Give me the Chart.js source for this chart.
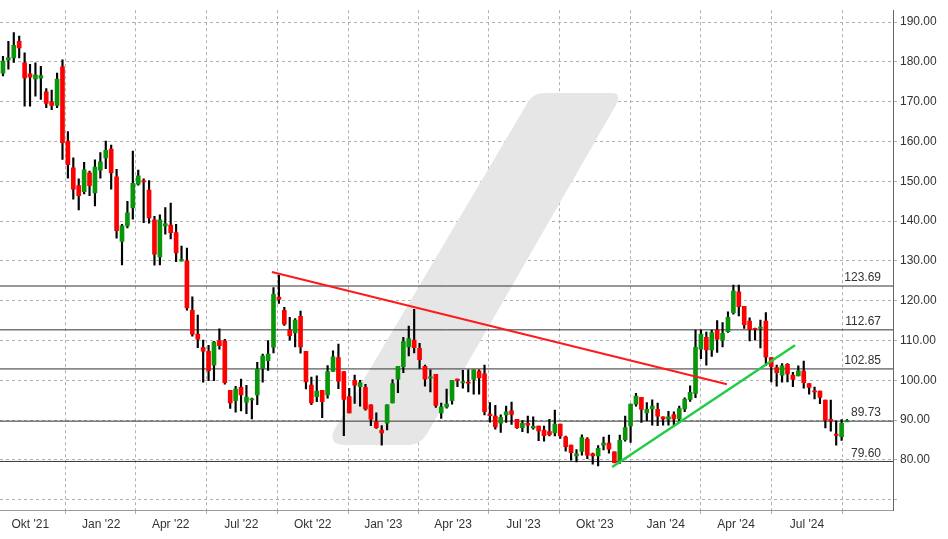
<!DOCTYPE html>
<html>
<head>
<meta charset="utf-8">
<script src="https://cdn.jsdelivr.net/npm/chart.js@4/dist/chart.umd.min.js"></script>
<style>
  html, body { margin: 0; padding: 0; background: #fff; }
  #wrap { width: 948px; height: 539px; position: relative; }
</style>
</head>
<body>
<div id="wrap"><canvas id="c"></canvas></div>
<script>
// Wochenkerzen Okt '21 - Aug '24
const opens  = [177.2,180.5,181.0,185.2,179.8,177.0,175.7,175.9,172.5,170.0,169.1,178.8,160.1,153.4,148.9,147.4,152.1,147.1,152.8,155.9,158.1,151.1,134.9,138.8,143.3,149.3,150.2,147.8,140.3,131.0,138.8,139.0,137.1,130.0,130.0,117.6,111.6,108.2,107.3,103.8,110.0,109.9,97.5,94.9,98.2,94.5,95.2,96.3,103.0,104.9,108.3,120.9,117.6,112.6,111.9,116.1,107.3,98.8,95.9,97.5,96.3,102.2,105.7,102.2,95.9,100.0,98.4,98.2,93.8,89.6,87.5,89.2,94.3,100.3,103.4,108.4,110.1,108.0,103.5,100.7,101.5,91.8,93.3,94.9,100.3,99.5,99.6,100.2,102.3,101.6,91.5,91.0,89.2,91.3,92.3,90.2,88.1,89.2,88.0,88.5,87.5,87.1,86.8,89.0,85.7,83.7,81.0,82.1,85.2,81.5,81.0,83.7,84.2,82.0,79.7,85.1,88.5,94.0,95.7,91.8,92.8,92.7,90.8,90.2,91.4,90.3,92.8,95.2,96.7,107.8,110.8,107.6,112.6,110.1,112.2,117.0,122.2,118.6,114.9,113.1,113.2,114.9,105.7,103.2,101.3,104.0,101.3,101.1,102.3,99.2,97.4,97.3,95.0,90.2,86.6,85.8,89.7];
const highs  = [181.4,185.2,187.4,186.5,182.3,179.4,179.8,178.9,173.3,172.9,177.2,180.5,162.5,155.9,150.6,154.8,152.6,155.4,157.2,160.1,159.1,153.0,139.2,145.0,157.6,152.8,150.6,150.2,141.2,141.6,143.4,144.5,139.2,133.7,133.2,121.0,116.4,110.1,108.8,109.8,112.9,110.3,97.5,98.5,100.3,98.7,95.5,104.5,106.6,110.0,123.3,126.4,118.3,115.8,115.5,117.4,107.3,100.8,101.1,97.5,103.7,107.4,109.1,102.2,98.0,101.3,100.0,99.0,93.8,91.8,88.6,93.8,100.2,103.5,110.8,113.6,117.8,109.3,103.8,102.6,101.5,94.3,97.8,100.0,100.3,102.5,102.6,102.6,102.6,103.8,94.4,93.7,91.3,93.5,94.5,90.2,89.9,91.0,90.8,88.5,88.5,90.2,92.5,89.0,86.0,83.7,82.6,86.3,85.6,81.7,83.6,85.7,86.2,82.0,86.2,91.0,94.0,96.7,95.7,94.4,95.1,94.3,90.8,92.2,92.1,93.5,95.6,98.6,112.6,112.6,112.1,112.6,115.0,114.5,117.2,123.9,123.9,118.6,115.7,113.1,115.1,117.0,105.7,103.8,104.2,104.2,102.0,103.6,104.8,99.2,98.3,97.3,95.0,95.0,89.8,90.1,90.1];
const lows   = [176.5,178.2,179.9,181.0,168.9,168.9,171.4,170.6,168.5,168.0,168.5,155.5,150.8,145.5,142.8,146.8,146.4,143.8,150.8,153.2,148.0,135.7,129.0,138.3,140.5,149.0,139.6,139.5,128.9,129.0,136.7,135.5,129.8,129.9,117.6,111.1,108.2,99.5,99.9,99.9,107.8,99.0,92.9,92.0,92.3,91.6,90.3,93.9,99.5,102.5,106.9,119.3,113.8,110.1,108.4,106.8,97.8,93.9,94.6,90.6,95.5,102.2,97.9,86.1,91.8,94.2,93.5,92.5,88.6,87.9,83.7,87.5,94.3,96.9,101.9,106.1,106.9,103.0,98.5,97.1,93.2,90.4,93.0,94.0,98.4,98.0,97.1,96.5,96.5,91.3,89.5,87.7,86.9,89.4,88.9,87.9,87.1,86.8,87.7,84.8,84.7,86.0,86.0,85.4,82.2,79.9,79.5,81.2,80.3,78.9,78.5,82.5,81.7,79.2,79.1,84.7,84.4,93.5,89.4,89.8,88.7,88.6,88.7,88.7,88.4,89.8,92.1,94.7,95.6,105.4,103.8,106.0,107.0,108.4,112.0,116.6,116.2,113.0,109.9,110.1,108.1,103.7,99.6,98.5,99.5,99.6,98.4,101.1,98.0,96.5,95.3,94.1,88.0,87.2,83.7,84.9,89.7];
const closes = [180.2,181.0,184.2,183.5,176.0,176.2,176.7,176.6,169.6,169.1,175.7,159.7,154.2,148.0,146.4,152.9,148.9,153.6,154.9,157.8,152.1,137.6,138.8,142.1,149.5,151.4,150.0,140.8,131.7,140.3,139.3,137.1,132.0,130.3,118.2,111.6,110.3,107.3,102.4,109.6,108.7,99.4,94.3,97.8,96.3,95.8,95.4,102.8,106.1,106.6,121.6,120.3,114.1,111.2,115.1,108.4,99.6,94.3,97.3,94.6,102.2,105.9,99.8,95.2,91.8,98.8,99.4,92.8,90.2,88.1,86.8,93.8,99.2,103.5,109.7,110.5,108.2,105.2,100.3,100.9,93.7,93.3,94.0,100.0,99.9,99.7,99.4,102.6,100.6,92.1,91.1,88.3,90.7,92.1,91.4,88.1,89.2,88.7,88.4,87.3,86.1,86.3,89.0,86.0,83.3,81.8,81.5,85.6,81.2,81.0,82.9,84.2,82.7,79.3,84.9,88.1,94.0,96.0,92.7,92.7,93.5,91.0,90.3,90.8,90.3,92.9,95.2,97.0,108.3,111.6,107.6,112.0,110.3,111.8,115.8,122.4,118.5,114.0,112.8,112.9,113.5,105.8,103.4,101.9,103.6,101.6,100.2,102.4,99.4,98.2,97.2,95.7,90.0,89.8,86.3,89.2,89.9];

// Zeitachse: Position (Wochenindex) der Quartalsbeschriftungen
const tickIdx    = [5.05, 18.17, 31.0, 44.05, 57.25, 70.3, 83.2, 96.2, 109.4, 122.5, 135.5, 148.6];
const tickLabels = ["Okt '21","Jan '22","Apr '22","Jul '22","Okt '22","Jan '23","Apr '23","Jul '23","Okt '23","Jan '24","Apr '24","Jul '24"];
const yTicks     = [70, 80, 90, 100, 110, 120, 130, 140, 150, 160, 170, 180, 190];

// Horizontale Marken und Trendlinien
const levels     = [123.69, 112.67, 102.85, 89.73, 79.60];
const redTrend   = [[49.7, 127.2], [133.8, 99.0]];
const greenTrend = [[112.6, 78.2], [146.4, 108.8]];

const X_MIN = -0.55, X_MAX = 164.5;
const UP = '#0a960a', DOWN = '#ff0000';

const bodies = opens.map((o, i) => {
  const c = closes[i];
  const lo = Math.min(o, c), hi = Math.max(o, c);
  return { x: i, y: hi - lo < 0.3 ? [lo - 0.15, lo + 0.15] : [lo, hi] };
});
const wicks = opens.map((o, i) => ({
  x: i, y: [Math.min(lows[i], o, closes[i]), Math.max(highs[i], o, closes[i])]
}));
const bodyColors = opens.map((o, i) => closes[i] >= o ? UP : DOWN);

const levelSets = levels.map(v => ({
  type: 'line', data: [{ x: X_MIN, y: v }, { x: X_MAX, y: v }],
  borderColor: '#333', borderWidth: 1, pointRadius: 0, order: 5
}));

const watermark = {
  id: 'watermark',
  beforeDatasetsDraw(chart) {
    const ctx = chart.ctx;
    ctx.save();
    ctx.fillStyle = '#e6e6e6';
    ctx.beginPath();
    ctx.moveTo(345, 445);
    ctx.quadraticCurveTo(328, 445, 334, 430);
    ctx.lineTo(528, 102);
    ctx.quadraticCurveTo(533, 93, 545, 93);
    ctx.lineTo(612, 93);
    ctx.quadraticCurveTo(622, 93, 616, 105);
    ctx.lineTo(428, 432);
    ctx.quadraticCurveTo(421, 445, 408, 445);
    ctx.closePath();
    ctx.fill();
    ctx.restore();
  }
};

const levelLabels = {
  id: 'levelLabels',
  afterDatasetsDraw(chart) {
    const ctx = chart.ctx, y = chart.scales.y, area = chart.chartArea;
    ctx.save();
    ctx.font = '12px "Liberation Sans", Arial, sans-serif';
    ctx.fillStyle = '#333';
    ctx.textAlign = 'right';
    ctx.textBaseline = 'bottom';
    levels.forEach(v => ctx.fillText(v.toFixed(2), area.right - 12, y.getPixelForValue(v) - 2));
    ctx.restore();
  }
};

new Chart(document.getElementById('c'), {
  type: 'bar',
  data: {
    datasets: [
      { data: bodies, backgroundColor: bodyColors, barThickness: 4, grouped: false, order: 1 },
      { data: wicks, backgroundColor: '#000', barThickness: 1.5, grouped: false, order: 2 },
      ...levelSets,
      { type: 'line', data: redTrend.map(p => ({ x: p[0], y: p[1] })), borderColor: '#ff1a1a', borderWidth: 2, pointRadius: 0, order: 0 },
      { type: 'line', data: greenTrend.map(p => ({ x: p[0], y: p[1] })), borderColor: '#22cc44', borderWidth: 2.5, pointRadius: 0, order: 0 }
    ]
  },
  options: {
    responsive: true,
    maintainAspectRatio: false,
    animation: false,
    layout: { padding: 0 },
    plugins: { legend: { display: false }, tooltip: { enabled: false } },
    scales: {
      x: {
        type: 'linear', min: X_MIN, max: X_MAX, offset: false,
        afterBuildTicks: (axis) => { axis.ticks = tickIdx.map(v => ({ value: v })); },
        afterFit: (axis) => { axis.height = 29; },
        grid: { color: '#b0b0b0', tickLength: 4, drawTicks: true },
        border: { color: '#999', dash: [3, 3] },
        ticks: {
          color: '#333', font: { size: 12, family: '"Liberation Sans", Arial, sans-serif' },
          maxRotation: 0, autoSkip: false,
          callback: (v) => { const k = tickIdx.indexOf(v); return k >= 0 ? tickLabels[k] : ''; }
        }
      },
      y: {
        position: 'right', min: 67.4, max: 193.0,
        afterBuildTicks: (axis) => { axis.ticks = yTicks.map(v => ({ value: v })); },
        afterFit: (axis) => { axis.width = 55; },
        grid: { color: '#b0b0b0', tickLength: 4 },
        border: { color: '#666', dash: [3, 3] },
        ticks: {
          color: '#333', font: { size: 12, family: '"Liberation Sans", Arial, sans-serif' },
          callback: (v) => v === 70 ? '' : v.toFixed(2)
        }
      }
    }
  },
  plugins: [watermark, levelLabels]
});
</script>
</body>
</html>
